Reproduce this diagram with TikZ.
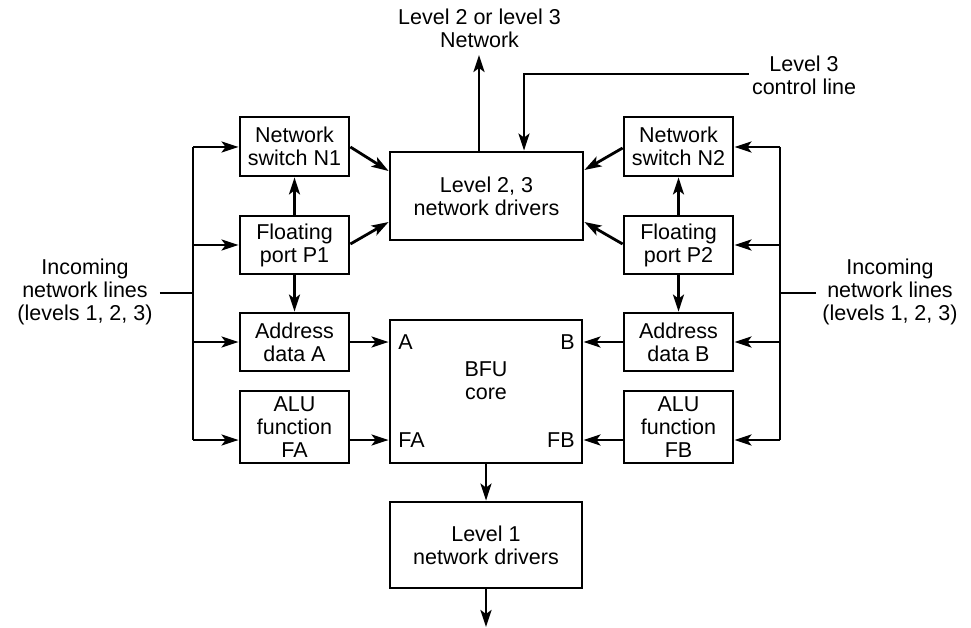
\documentclass[tikz,border=0pt]{standalone}
\usepackage{fontspec}
\setmainfont{Liberation Sans}
\usetikzlibrary{arrows.meta}
\begin{document}
\begin{tikzpicture}[x=1pt,y=-1pt,
  line width=2.8pt,
  every node/.style={font=\fontsize{21.5}{23}\selectfont},
  blk/.style={draw,rectangle,inner sep=0pt,align=center},
  lbl/.style={align=center,inner sep=0pt},
  arr/.style={-{Stealth[length=17pt,width=11pt,inset=4pt]}}]
\useasboundingbox (0,0) rectangle (971,628);

% blocks, left column
\node[blk,minimum width=109pt,minimum height=59pt] (n1) at (294.5,146.5) {Network\\switch N1};
\node[blk,minimum width=109pt,minimum height=58pt] (p1) at (294.5,245) {Floating\\port P1};
\node[blk,minimum width=109pt,minimum height=58pt] (ada) at (294.5,342) {Address\\data A};
\node[blk,minimum width=109pt,minimum height=72pt] (alua) at (294.5,427) {ALU\\function\\FA};
% blocks, right column
\node[blk,minimum width=109pt,minimum height=59pt] (n2) at (678.5,146.5) {Network\\switch N2};
\node[blk,minimum width=109pt,minimum height=58pt] (p2) at (678.5,245) {Floating\\port P2};
\node[blk,minimum width=109pt,minimum height=58pt] (adb) at (678.5,342) {Address\\data B};
\node[blk,minimum width=109pt,minimum height=72pt] (alub) at (678.5,427) {ALU\\function\\FB};
% centre blocks
\node[blk,minimum width=193pt,minimum height=88pt] (l23) at (486.5,196) {Level 2, 3\\network drivers};
\node[blk,minimum width=192pt,minimum height=143pt] (bfu) at (486,391.5) {};
\node[lbl] (core) at (486,381) {BFU\\core};
\node[blk,minimum width=192pt,minimum height=86pt] (l1) at (486,545) {Level 1\\network drivers};

% port labels inside the core
\node[lbl,anchor=west] (pa) at (397,342) {A};
\node[lbl,anchor=east] (pb) at (576,342) {B};
\node[lbl,anchor=west] (pfa) at (397,440) {FA};
\node[lbl,anchor=east] (pfb) at (576,440) {FB};

% outer labels
\node[lbl] (top) at (479.5,28) {Level 2 or level 3\\Network};
\node[lbl] (ctl) at (804,75) {Level 3\\control line};
\node[lbl] (inl) at (85,292) {Incoming\\network lines\\(levels 1, 2, 3)};
\node[lbl] (inr) at (890,292) {Incoming\\network lines\\(levels 1, 2, 3)};

% bus coordinates
\coordinate (bl) at (193,293);
\coordinate (br) at (780,293);

% left incoming bus
\draw (inl.east |- bl) ++(6,0) -- (bl);
\draw (193,147) -- (193,440);
\draw[arr] (193,147) -- (n1.west |- 0,147);
\draw[arr] (193,245) -- (p1.west);
\draw[arr] (193,342) -- (ada.west);
\draw[arr] (193,440) -- (alua.west |- 0,440);
% right incoming bus
\draw (inr.west |- br) ++(-5,0) -- (br);
\draw (780,147) -- (780,440);
\draw[arr] (780,147) -- (n2.east |- 0,147);
\draw[arr] (780,245) -- (p2.east);
\draw[arr] (780,342) -- (adb.east);
\draw[arr] (780,440) -- (alub.east |- 0,440);

% floating ports
\draw[arr] (p1.north) -- (n1.south);
\draw[arr] (p1.south) -- (ada.north);
\draw[arr] (p2.north) -- (n2.south);
\draw[arr] (p2.south) -- (adb.north);

% into level 2,3 drivers
\draw[arr] (n1.east |- 0,147) -- (l23.west |- 0,171);
\draw[arr] (p1.east |- 0,244) -- (l23.west |- 0,222);
\draw[arr] (n2.west |- 0,148) -- (l23.east |- 0,170);
\draw[arr] (p2.west |- 0,244) -- (l23.east |- 0,222);

% into the core
\draw[arr] (ada.east) -- (bfu.west |- ada.east);
\draw[arr] (alua.east |- 0,440) -- (bfu.west |- 0,440);
\draw[arr] (adb.west) -- (bfu.east |- adb.west);
\draw[arr] (alub.west |- 0,440) -- (bfu.east |- 0,440);

% level 2/3 network out, control line in
\draw[arr] (l23.north -| 479,0) -- (479,55);
\coordinate (cl) at (524,74);
\draw[arr] (ctl.west |- cl) ++(-2,0) -- (cl) -- (l23.north -| cl);

% level 1 drivers
\draw[arr] (bfu.south) -- (l1.north);
\coordinate (l1out) at (486,627);
\draw[arr] (l1.south) -- (l1out);
\end{tikzpicture}
\end{document}
